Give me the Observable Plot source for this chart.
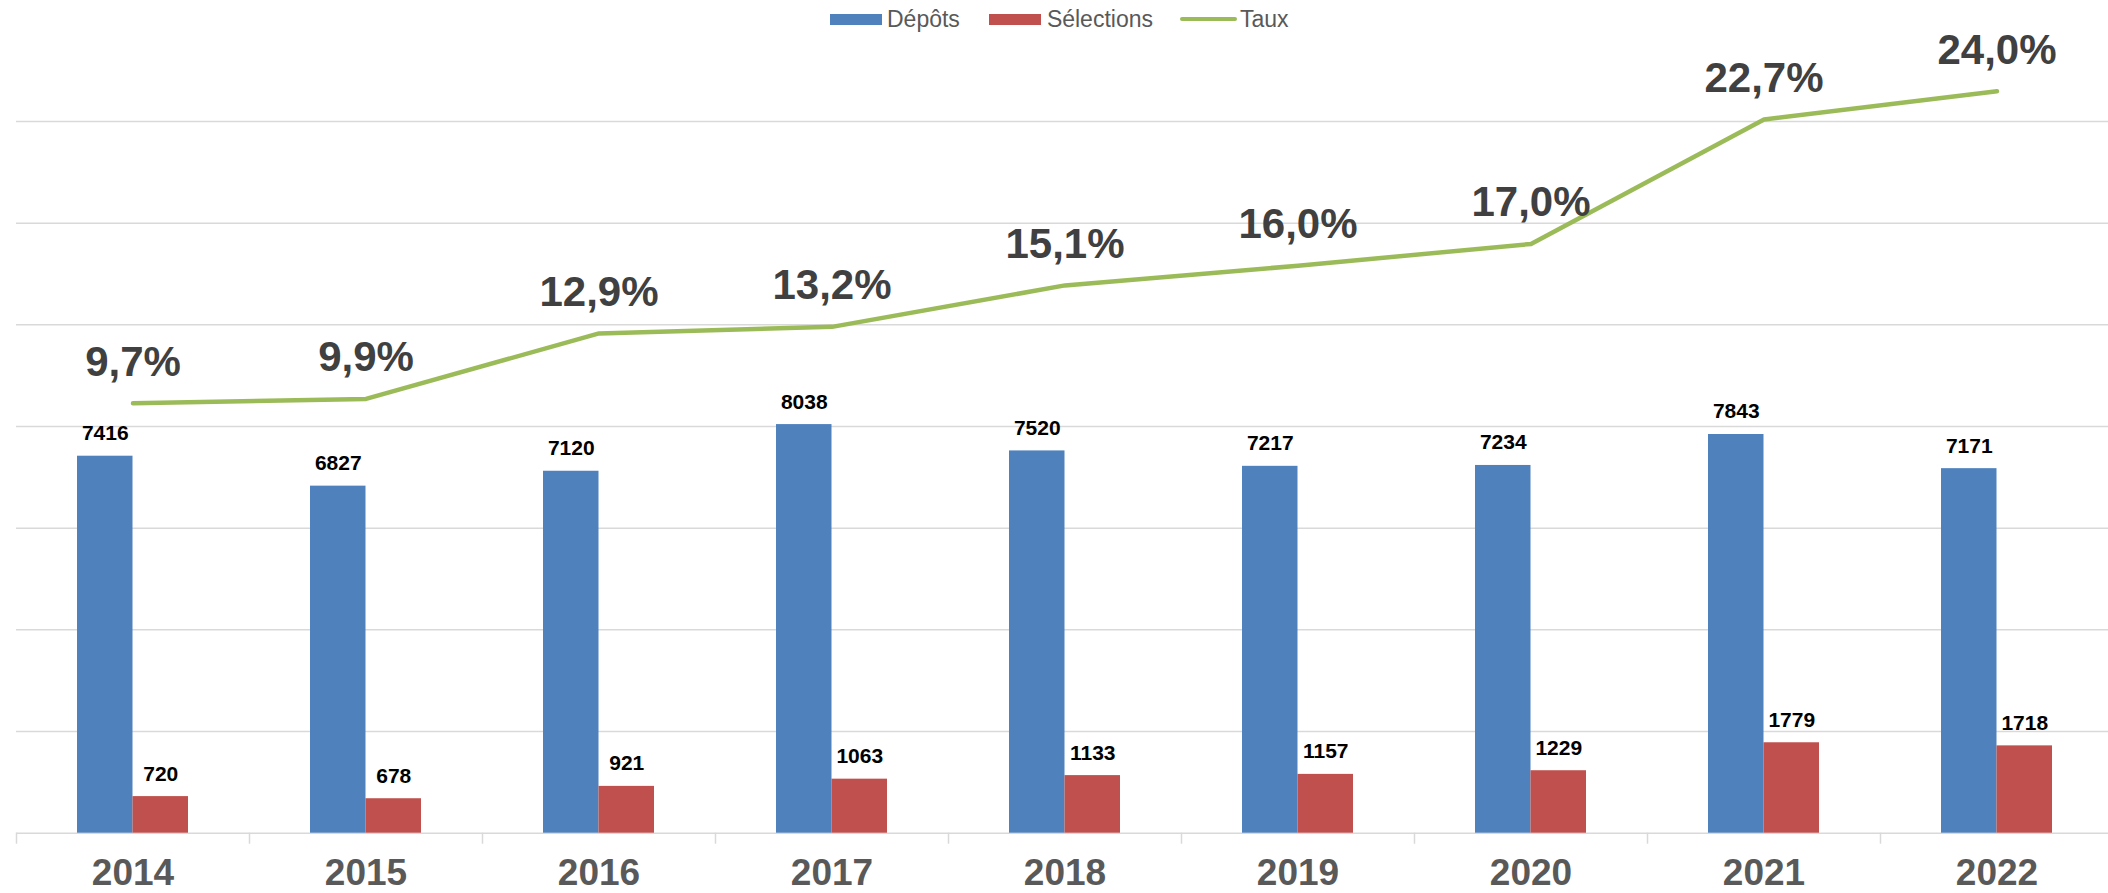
<!DOCTYPE html>
<html>
<head>
<meta charset="utf-8">
<script src="https://cdn.jsdelivr.net/npm/d3@7"></script>
<script src="https://cdn.jsdelivr.net/npm/@observablehq/plot@0.6"></script>
<style>
  body { margin: 0; background: #fff; font-family: "Liberation Sans", Arial, sans-serif; }
  #legend { height: 38px; display: flex; align-items: center; padding-left: 830px; font-size: 23px; color: #595959; box-sizing: border-box; }
  .item { display: flex; align-items: center; }
  .sw { display: inline-block; }
</style>
</head>
<body>
<div id="legend"></div>
<div id="chart"></div>
<script>
// ---- data ----
const years = ["2014", "2015", "2016", "2017", "2018", "2019", "2020", "2021", "2022"];
const depots = [7416, 6827, 7120, 8038, 7520, 7217, 7234, 7843, 7171];
const selections = [720, 678, 921, 1063, 1133, 1157, 1229, 1779, 1718];
const taux = [9.7, 9.9, 12.9, 13.2, 15.1, 16.0, 17.0, 22.7, 24.0];
const gridTicks = [2000, 4000, 6000, 8000, 10000, 12000, 14000];
const seriesNames = ["Dépôts", "Sélections", "Taux"];
const colors = ["#4F81BD", "#C0504D", "#9BBB59"];

// secondary (hidden) axis for the rate, mapped onto the primary axis
const secondary = d3.scaleLinear().domain([-10, 22.61]).range([0, 14000]);

const rows = years.map((year, i) => ({
  year, depots: depots[i], selections: selections[i], taux: taux[i]
}));

// ---- legend ----
const legend = document.getElementById("legend");
const swatchStyles = [
  {w: 52, h: 11, gap: 5, after: 29, radius: 0},
  {w: 52, h: 11, gap: 6, after: 27, radius: 0},
  {w: 57, h: 4.5, gap: 3, after: 0, radius: 3}
];
seriesNames.forEach((name, i) => {
  const s = swatchStyles[i];
  const item = document.createElement("span");
  item.className = "item";
  item.style.marginRight = s.after + "px";
  const sw = document.createElement("span");
  sw.className = "sw";
  sw.style.width = s.w + "px";
  sw.style.height = s.h + "px";
  sw.style.background = colors[i];
  sw.style.borderRadius = s.radius + "px";
  sw.style.marginRight = s.gap + "px";
  const label = document.createElement("span");
  label.textContent = name;
  item.appendChild(sw);
  item.appendChild(label);
  legend.appendChild(item);
});

// ---- chart ----
const fmtPct = v => v.toFixed(1).replace(".", ",") + "%";
const halfBand = (2113 - 16) / years.length / 2;

const chart = Plot.plot({
  width: 2108,
  height: 855,
  marginLeft: 16,
  marginRight: -5,
  marginTop: 83,
  marginBottom: 60.3,
  style: {overflow: "visible", fontFamily: "Liberation Sans, Arial, sans-serif", background: "white"},
  x: {type: "band", domain: years, padding: 0, label: null},
  y: {domain: [0, 14000], axis: null},
  marks: [
    Plot.ruleY(gridTicks, {stroke: "#D9D9D9", strokeWidth: 1.5}),
    Plot.ruleY([0], {stroke: "#D9D9D9", strokeWidth: 1.5}),
    Plot.ruleX(years, {x: d => d, y1: 0, y2: 0, dx: -halfBand, insetTop: 11, stroke: "#D9D9D9", strokeWidth: 1.5}),
    Plot.barY(rows, {x: "year", y: "depots", fill: colors[0], insetLeft: 61, insetRight: 116.5}),
    Plot.barY(rows, {x: "year", y: "selections", fill: colors[1], insetLeft: 116.5, insetRight: 61}),
    Plot.text(rows, {x: "year", y: "depots", text: d => String(d.depots), dx: -27.75, dy: -16, lineAnchor: "bottom", fontSize: 21, fontWeight: "bold", fill: "#000"}),
    Plot.text(rows, {x: "year", y: "selections", text: d => String(d.selections), dx: 27.75, dy: -16, lineAnchor: "bottom", fontSize: 21, fontWeight: "bold", fill: "#000"}),
    Plot.line(rows, {x: "year", y: d => secondary(d.taux), stroke: colors[2], strokeWidth: 4.5, strokeLinecap: "round", strokeLinejoin: "round"}),
    Plot.text(rows, {x: "year", y: d => secondary(d.taux), text: d => fmtPct(d.taux), dy: -27.5, lineAnchor: "bottom", fontSize: 42, fontWeight: "bold", fill: "#404040"}),
    Plot.axisX({tickSize: 0, tickPadding: 26, fontSize: 37, fontWeight: "bold", fill: "#595959", label: null})
  ]
});
document.getElementById("chart").appendChild(chart);
</script>
</body>
</html>
